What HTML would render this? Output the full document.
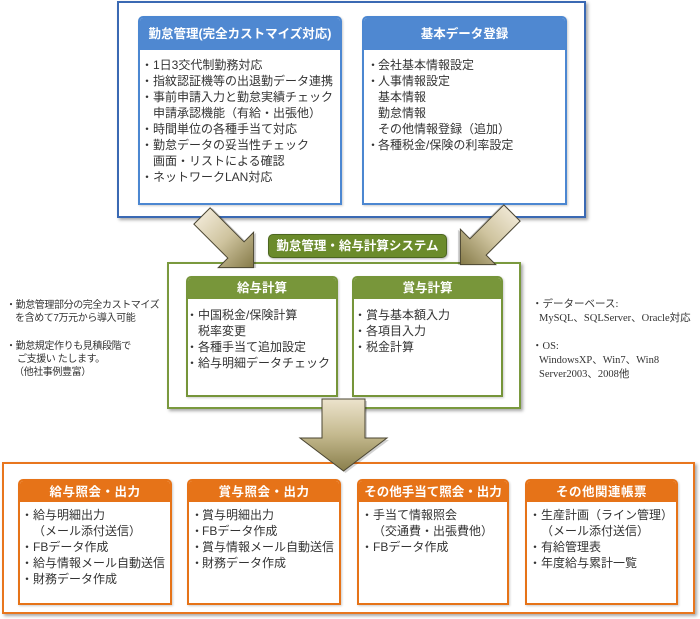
<!DOCTYPE html>
<html><head><meta charset="utf-8">
<style>
html,body{margin:0;padding:0;background:#fff;}
body{width:700px;height:619px;position:relative;overflow:hidden;font-family:"Liberation Sans","Noto Sans CJK JP",sans-serif;color:#333;}
.abs{position:absolute;box-sizing:border-box;}
.outer{position:absolute;box-sizing:border-box;background:#fff;box-shadow:2px 2px 3px rgba(0,0,0,0.35);}
.box{position:absolute;box-sizing:border-box;background:#fff;border:2px solid;border-radius:5px 5px 0 0;box-shadow:1px 1px 2px rgba(0,0,0,0.2);}
.hd{color:#fff;font-weight:bold;text-align:center;font-size:12.5px;white-space:nowrap;border-radius:3px 3px 0 0;}
.bd{font-size:12px;line-height:16px;white-space:nowrap;}
.l{position:relative;padding-left:13px;}
.l .b{position:absolute;left:1px;top:0;}
.blue{border-color:#4c87d1;}
.blue .hd{background:#4f88d1;height:32px;line-height:32px;}
.blue .bd{padding-top:7px;}
.green{border-color:#76953a;}
.green .hd{background:#78963a;height:21px;line-height:21px;}
.green .bd{padding-top:8px;}
.orange{border-color:#e67318;}
.orange .hd{background:#e67318;height:21px;line-height:22px;letter-spacing:0.5px;}
.orange .bd{padding-top:5px;}
.note{position:absolute;font-size:10px;line-height:13px;white-space:nowrap;color:#333;}
</style></head><body>

<!-- Blue outer -->
<div class="outer" style="left:117px;top:1px;width:469px;height:217px;border:2px solid #3a69b3;"></div>
<div class="box blue" style="left:138px;top:16px;width:204px;height:189px;">
 <div class="hd">勤怠管理(完全カストマイズ対応)</div>
 <div class="bd">
  <div class="l"><span class="b">・</span>1日3交代制勤務対応</div>
  <div class="l"><span class="b">・</span>指紋認証機等の出退勤データ連携</div>
  <div class="l"><span class="b">・</span>事前申請入力と勤怠実績チェック</div>
  <div class="l">申請承認機能（有給・出張他）</div>
  <div class="l"><span class="b">・</span>時間単位の各種手当て対応</div>
  <div class="l"><span class="b">・</span>勤怠データの妥当性チェック</div>
  <div class="l">画面・リストによる確認</div>
  <div class="l"><span class="b">・</span>ネットワークLAN対応</div>
 </div>
</div>
<div class="box blue" style="left:362px;top:16px;width:205px;height:189px;">
 <div class="hd">基本データ登録</div>
 <div class="bd">
  <div class="l" style="padding-left:14px"><span class="b" style="left:3px">・</span>会社基本情報設定</div>
  <div class="l" style="padding-left:14px"><span class="b" style="left:3px">・</span>人事情報設定</div>
  <div class="l" style="padding-left:14px">基本情報</div>
  <div class="l" style="padding-left:14px">勤怠情報</div>
  <div class="l" style="padding-left:14px">その他情報登録（追加）</div>
  <div class="l" style="padding-left:14px"><span class="b" style="left:3px">・</span>各種税金/保険の利率設定</div>
 </div>
</div>

<!-- Green -->
<div class="outer" style="left:167px;top:262px;width:354px;height:147px;border:2px solid #7a993e;"></div>
<div class="abs" style="left:268px;top:234px;width:179px;height:24px;background:#6b8b2b;border:1px solid #4c6620;border-radius:5px;color:#fff;font-weight:bold;font-size:12.5px;line-height:22px;text-align:center;box-shadow:1px 1px 2px rgba(0,0,0,0.3);">勤怠管理・給与計算システム</div>
<div class="box green" style="left:186px;top:276px;width:152px;height:121px;">
 <div class="hd">給与計算</div>
 <div class="bd">
  <div class="l" style="padding-left:10px"><span class="b" style="left:-2px">・</span>中国税金/保険計算</div>
  <div class="l" style="padding-left:10px">税率変更</div>
  <div class="l" style="padding-left:10px"><span class="b" style="left:-2px">・</span>各種手当て追加設定</div>
  <div class="l" style="padding-left:10px"><span class="b" style="left:-2px">・</span>給与明細データチェック</div>
 </div>
</div>
<div class="box green" style="left:352px;top:276px;width:151px;height:121px;">
 <div class="hd">賞与計算</div>
 <div class="bd">
  <div class="l" style="padding-left:12px"><span class="b" style="left:0px">・</span>賞与基本額入力</div>
  <div class="l" style="padding-left:12px"><span class="b" style="left:0px">・</span>各項目入力</div>
  <div class="l" style="padding-left:12px"><span class="b" style="left:0px">・</span>税金計算</div>
 </div>
</div>

<!-- Side notes -->
<div class="note" style="left:6px;top:299px;letter-spacing:-0.4px;">
 <div>・勤怠管理部分の完全カストマイズ</div>
 <div style="padding-left:9px">を含めて7万元から導入可能</div>
 <div>&nbsp;</div>
 <div style="margin-top:2px">・勤怠規定作りも見積段階で</div>
 <div style="padding-left:11px">ご支援い たします。</div>
 <div style="padding-left:8px">（他社事例豊富）</div>
</div>
<div class="note" style="left:532px;top:298px;font-family:'Liberation Serif','Noto Sans CJK JP',serif;font-size:10.5px;line-height:14px;">
 <div>・データーベース:</div>
 <div style="padding-left:7px">MySQL、SQLServer、Oracle対応</div>
 <div>&nbsp;</div>
 <div>・OS:</div>
 <div style="padding-left:7px">WindowsXP、Win7、Win8</div>
 <div style="padding-left:7px">Server2003、2008他</div>
</div>

<!-- Orange -->
<div class="outer" style="left:2px;top:462px;width:693px;height:152px;border:2px solid #e8761e;"></div>
<div class="box orange" style="left:18px;top:479px;width:154px;height:126px;">
 <div class="hd">給与照会・出力</div>
 <div class="bd">
  <div class="l"><span class="b">・</span>給与明細出力</div>
  <div class="l">（メール添付送信）</div>
  <div class="l"><span class="b">・</span>FBデータ作成</div>
  <div class="l"><span class="b">・</span>給与情報メール自動送信</div>
  <div class="l"><span class="b">・</span>財務データ作成</div>
 </div>
</div>
<div class="box orange" style="left:187px;top:479px;width:154px;height:126px;">
 <div class="hd">賞与照会・出力</div>
 <div class="bd">
  <div class="l"><span class="b" style="left:2px">・</span>賞与明細出力</div>
  <div class="l"><span class="b" style="left:2px">・</span>FBデータ作成</div>
  <div class="l"><span class="b" style="left:2px">・</span>賞与情報メール自動送信</div>
  <div class="l"><span class="b" style="left:2px">・</span>財務データ作成</div>
 </div>
</div>
<div class="box orange" style="left:357px;top:479px;width:152px;height:126px;">
 <div class="hd" style="letter-spacing:0">その他手当て照会・出力</div>
 <div class="bd">
  <div class="l" style="padding-left:14px"><span class="b" style="left:2px">・</span>手当て情報照会</div>
  <div class="l" style="padding-left:14px">（交通費・出張費他）</div>
  <div class="l" style="padding-left:14px"><span class="b" style="left:2px">・</span>FBデータ作成</div>
 </div>
</div>
<div class="box orange" style="left:525px;top:479px;width:153px;height:126px;">
 <div class="hd">その他関連帳票</div>
 <div class="bd">
  <div class="l" style="padding-left:14px"><span class="b" style="left:2px">・</span>生産計画（ライン管理）</div>
  <div class="l" style="padding-left:14px">（メール添付送信）</div>
  <div class="l" style="padding-left:14px"><span class="b" style="left:2px">・</span>有給管理表</div>
  <div class="l" style="padding-left:14px"><span class="b" style="left:2px">・</span>年度給与累計一覧</div>
 </div>
</div>

<!-- Arrows -->
<svg width="700" height="619" style="position:absolute;left:0;top:0;" xmlns="http://www.w3.org/2000/svg">
 <defs>
  <linearGradient id="ga" x1="0" y1="0" x2="0" y2="1">
   <stop offset="0" stop-color="#eee6d2"/>
   <stop offset="0.45" stop-color="#cfc49f"/>
   <stop offset="1" stop-color="#857a48"/>
  </linearGradient>
  <linearGradient id="gd" x1="0" y1="0" x2="0" y2="1">
   <stop offset="0" stop-color="#ece3cc"/>
   <stop offset="0.5" stop-color="#c4b98e"/>
   <stop offset="1" stop-color="#8a7f4c"/>
  </linearGradient>
 </defs>
 <g transform="translate(202,216) rotate(-45)">
  <polygon points="-11.5,0 11.5,0 11.5,48 25,48 0,73 -25,48 -11.5,48" fill="rgba(0,0,0,0.18)" transform="translate(1.5,2)"/>
  <polygon points="-11.5,0 11.5,0 11.5,48 25,48 0,73 -25,48 -11.5,48" fill="url(#ga)" stroke="#4a4532" stroke-width="1"/>
 </g>
 <g transform="translate(512,213) rotate(45)">
  <polygon points="-11.5,0 11.5,0 11.5,48 25,48 0,73 -25,48 -11.5,48" fill="rgba(0,0,0,0.18)" transform="translate(-1.5,2)"/>
  <polygon points="-11.5,0 11.5,0 11.5,48 25,48 0,73 -25,48 -11.5,48" fill="url(#ga)" stroke="#4a4532" stroke-width="1"/>
 </g>
 <polygon points="322,399 365,399 365,438 387,438 343.5,471 300,438 322,438" fill="rgba(0,0,0,0.18)" transform="translate(2,2)"/>
 <polygon points="322,399 365,399 365,438 387,438 343.5,471 300,438 322,438" fill="url(#gd)" stroke="#4a4532" stroke-width="1"/>
</svg>
</body></html>
